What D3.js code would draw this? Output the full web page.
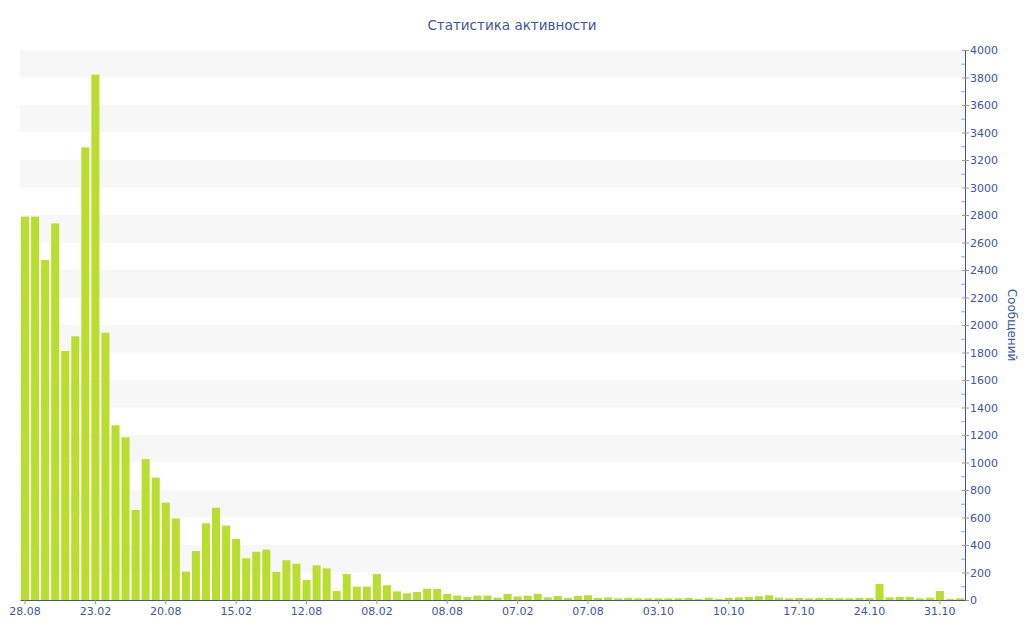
<!DOCTYPE html>
<html>
<head>
<meta charset="utf-8">
<script src="https://cdn.jsdelivr.net/npm/d3@7"></script>
<style>
    body { margin: 0; background: #fff; }
    svg { display: block; font-family: "DejaVu Sans", Verdana, sans-serif; }
</style>
</head>
<body>
<svg id="chart"></svg>
<script>
const title = "Статистика активности";
const yTitle = "Сообщений";
const messages = [
    2788, 2788, 2473, 2739, 1811, 1918, 3292, 3821, 1944, 1270,
    1183, 655, 1025, 890, 708, 593, 206, 356, 558, 671,
    541, 444, 303, 351, 366, 204, 289, 264, 145, 252,
    230, 65, 189, 97, 97, 189, 107, 63, 48, 58,
    82, 80, 44, 32, 22, 32, 32, 17, 44, 26,
    31, 44, 19, 29, 15, 29, 34, 15, 19, 12,
    15, 12, 12, 12, 12, 12, 15, 7, 17, 7,
    15, 19, 22, 27, 34, 17, 12, 15, 12, 15,
    15, 12, 12, 15, 15, 116, 19, 22, 22, 12,
    17, 65, 7, 12
];
const tickLabels = ["28.08", "23.02", "20.08", "15.02", "12.08", "08.02", "08.08",
    "07.02", "07.08", "03.10", "10.10", "17.10", "24.10", "31.10"];
const labelEvery = 7;
const yMax = 4000;

function redraw(width, height) {
    const leftBorder = 20;
    const rightBorder = 59;
    const topBorder = 50;
    const botBorder = 40;
    const textColor = "#3e55a2";

    const xScale = d3.scaleBand()
        .domain(d3.range(messages.length))
        .range([leftBorder, width - rightBorder])
        .paddingInner(0.2)
        .paddingOuter(0.1);
    const yScale = d3.scaleLinear()
        .domain([0, yMax])
        .range([height - botBorder, topBorder]);

    const canvas = d3.select("#chart")
        .attr("width", width)
        .attr("height", height);
    canvas.html("");

    // alternating grey bands
    const bands = d3.range(0, yMax, 200).filter(v => (v / 200) % 2 === 1);
    canvas.append("g")
        .selectAll("rect")
        .data(bands)
        .join("rect")
        .attr("x", leftBorder)
        .attr("width", width - rightBorder - leftBorder)
        .attr("y", d => yScale(d + 200))
        .attr("height", d => yScale(d) - yScale(d + 200))
        .attr("fill", "#f7f7f7");

    canvas.append("g")
        .selectAll("rect")
        .data(messages)
        .join("rect")
        .attr("x", (d, i) => xScale(i))
        .attr("width", xScale.bandwidth())
        .attr("y", d => yScale(d))
        .attr("height", d => yScale(0) - yScale(d))
        .attr("fill", "#bade30");

    // minor ticks every 100
    canvas.append("g")
        .attr("transform", "translate(" + (width - rightBorder) + ",0)")
        .call(d3.axisLeft(yScale).tickValues(d3.range(100, yMax, 200)).tickSize(4).tickFormat(""))
        .call(g => g.select(".domain").remove())
        .call(g => g.selectAll("line").attr("stroke", "#aaa"));

    const yAxis = canvas.append("g")
        .attr("transform", "translate(" + (width - rightBorder) + ",0)")
        .call(d3.axisRight(yScale)
            .tickValues(d3.range(0, yMax + 1, 200))
            .tickFormat(d3.format("d"))
            .tickSize(4)
            .tickPadding(1)
            .tickSizeOuter(0));
    yAxis.select(".domain").attr("stroke", textColor);
    yAxis.selectAll("line").attr("stroke", "#999").attr("x1", -3);
    yAxis.selectAll("text")
        .attr("fill", textColor)
        .attr("font-size", 11)
        .attr("font-family", "DejaVu Sans, Verdana, sans-serif");

    const xAxis = canvas.append("g")
        .attr("transform", "translate(0," + (height - botBorder) + ")")
        .call(d3.axisBottom(xScale)
            .tickValues(d3.range(0, messages.length, labelEvery))
            .tickFormat(i => tickLabels[i / labelEvery])
            .tickSize(4)
            .tickPadding(3)
            .tickSizeOuter(0));
    xAxis.select(".domain").attr("stroke", textColor);
    xAxis.selectAll("line").attr("stroke", "#999");
    xAxis.selectAll("text")
        .attr("fill", textColor)
        .attr("font-size", 11)
        .attr("font-family", "DejaVu Sans, Verdana, sans-serif");

    canvas.append("text")
        .attr("x", width / 2)
        .attr("y", 30)
        .attr("text-anchor", "middle")
        .attr("fill", textColor)
        .attr("font-size", 13.5)
        .text(title);

    canvas.append("text")
        .attr("transform", "translate(1008," + ((topBorder + height - botBorder) / 2) + ")rotate(90)")
        .attr("text-anchor", "middle")
        .attr("fill", textColor)
        .attr("font-size", 12)
        .text(yTitle);
}

redraw(1024, 640);
</script>
</body>
</html>
